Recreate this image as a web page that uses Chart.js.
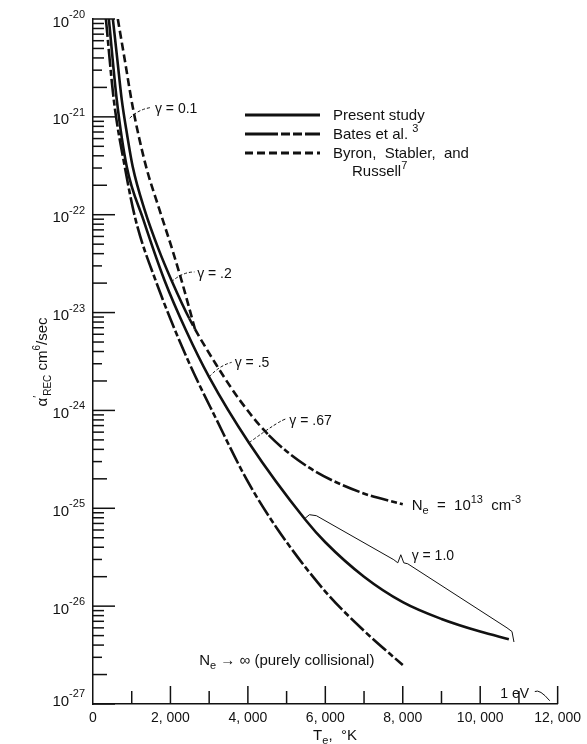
<!DOCTYPE html>
<html>
<head>
<meta charset="utf-8">
<script src="https://cdn.jsdelivr.net/npm/chart.js@4.4.1/dist/chart.umd.min.js"></script>
<style>
  html, body { margin: 0; padding: 0; background: #fff; }
</style>
</head>
<body>
<canvas id="chart" width="587" height="744"></canvas>
<script>
// temperature axis
const tempTicks = [0, 2000, 4000, 6000, 8000, 10000, 12000];
const decades = [-27, -26, -25, -24, -23, -22, -21, -20];

// Present study, Ne -> infinity (purely collisional)
const presentInfT = [410, 615, 872, 1300, 1846, 2400, 3000, 4026, 5490, 6000, 7000, 8000, 9000, 10000, 10740];
const presentInfA = [1.0e-20, 1.48e-21, 3.09e-22, 8.9e-23, 2.14e-23, 6.6e-24, 2.19e-24, 4.68e-25, 7.6e-26, 4.5e-26, 2.0e-26, 1.1e-26, 7.4e-27, 5.5e-27, 4.6e-27];

// Bates et al., Ne -> infinity
const batesInfT = [333, 538, 821, 1100, 1615, 2410, 3200, 3974, 4744, 6000, 7000, 8000];
const batesInfA = [1.0e-20, 1.48e-21, 3.09e-22, 8.9e-23, 2.14e-23, 3.55e-24, 7.9e-25, 1.95e-25, 6.3e-26, 1.41e-26, 5.6e-27, 2.5e-27];

// upper curve, Ne = 1e13: present study, then Byron et al., then Bates et al.
const upperT = [513, 630, 744, 880, 1026, 1333, 1700, 2026, 2487, 3179, 3800, 4538, 5564, 6923, 8000];
const upperA = [1.0e-20, 3.8e-21, 1.48e-21, 6.6e-22, 3.09e-22, 1.12e-22, 4.37e-23, 2.14e-23, 8.7e-24, 2.95e-24, 1.26e-24, 5.6e-25, 2.63e-25, 1.45e-25, 1.1e-25];
const upperSwitchT = [2487, 4538];   // solid -> dashed -> dash-dot

// Byron, Stabler and Russell, separate upper branch
const byronT = [641, 821, 1026, 1359, 1718, 2051, 2282, 2462, 2641];
const byronA = [1.0e-20, 3.81e-21, 1.26e-21, 3.23e-22, 1.12e-22, 4.37e-23, 2.16e-23, 1.2e-23, 6.6e-24];

// annotation anchors (data units)
const gammaText = ['γ = 0.1', 'γ = .2', 'γ = .5', 'γ = .67', 'γ = 1.0'];
const gammaAt = [[1600, 1.23e-21], [2690, 2.55e-23], [3660, 3.13e-24], [5070, 8.0e-25], [8230, 3.3e-26]];
const gammaLeaders = [
  [[949, 9.7e-22], [1180, 1.2e-21], [1520, 1.25e-21]],
  [[2026, 2.06e-23], [2308, 2.6e-23], [2620, 2.6e-23]],
  [[3000, 2.2e-24], [3256, 2.86e-24], [3580, 3.1e-24]],
  [[4026, 4.67e-25], [4872, 8.2e-25], [5000, 8.2e-25]]
];
const bracketPts = [[5460, 7.8e-26], [5590, 8.6e-26], [5769, 8.4e-26], [7769, 2.98e-26], [7872, 2.77e-26],
  [7949, 3.35e-26], [8026, 2.77e-26], [8128, 2.71e-26], [10692, 6.0e-27], [10821, 5.5e-27], [10872, 4.3e-27]];
const eVLeader = [[11410, 1.34e-27], [11538, 1.43e-27], [11795, 1.08e-27]];

const INK = '#111';
const FONT = '"Liberation Sans", Arial, sans-serif';
const DASH_BATES = [18, 3, 6, 3];
const DASH_BYRON = [8, 4];

const pts = (xs, ys) => xs.map((x, i) => ({ x: x, y: ys[i] }));

function line(label, xs, ys, dash) {
  return {
    label: label,
    data: pts(xs, ys),
    borderColor: INK,
    borderWidth: 2.6,
    borderDash: dash,
    pointRadius: 0,
    fill: false,
    cubicInterpolationMode: 'monotone'
  };
}

// draw text made of pieces [text, size, dy]
function rich(ctx, parts, x, y, align) {
  let w = 0;
  parts.forEach(p => { ctx.font = p[1] + 'px ' + FONT; w += ctx.measureText(p[0]).width; });
  let cx = align === 'center' ? x - w / 2 : (align === 'right' ? x - w : x);
  ctx.textAlign = 'left';
  ctx.textBaseline = 'alphabetic';
  parts.forEach(p => {
    ctx.font = p[1] + 'px ' + FONT;
    ctx.fillText(p[0], cx, y + (p[2] || 0));
    cx += ctx.measureText(p[0]).width;
  });
}

const paper = {
  id: 'paper',
  beforeDraw(chart) {
    const c = chart.ctx;
    c.save();
    c.fillStyle = '#fff';
    c.fillRect(0, 0, chart.width, chart.height);
    c.restore();
  },
  afterDraw(chart) {
    const c = chart.ctx;
    const xs = chart.scales.x, ys = chart.scales.y;
    const X = v => xs.getPixelForValue(v), Y = v => ys.getPixelForValue(v);
    const left = chart.chartArea.left, bottom = chart.chartArea.bottom;
    c.save();
    c.strokeStyle = INK;
    c.fillStyle = INK;
    c.lineWidth = 1.5;

    // y ticks, pointing inward
    decades.forEach((d, i) => {
      const yp = Y(Math.pow(10, d));
      c.beginPath(); c.moveTo(left, yp); c.lineTo(left + 22, yp); c.stroke();
      if (i < decades.length - 1) {
        for (let m = 2; m <= 9; m++) {
          const ym = Y(m * Math.pow(10, d));
          const len = m === 2 ? 14 : (m === 3 ? 9 : 11);
          c.beginPath(); c.moveTo(left, ym); c.lineTo(left + len, ym); c.stroke();
        }
      }
      const cy = d === -27 ? yp - 4 : yp + 2;
      c.font = '11px ' + FONT;
      const ew = c.measureText('-' + (-d)).width;
      rich(c, [['10', 15, 0]], 85 - ew, cy + 5.5, 'right');
      rich(c, [['-' + (-d), 11, 0]], 85, cy - 3, 'right');
    });

    // x ticks, pointing up
    for (let t = 1000; t <= 12000; t += 1000) {
      const xp = X(t);
      const len = t % 2000 === 0 ? 18 : 13;
      c.beginPath(); c.moveTo(xp, bottom); c.lineTo(xp, bottom - len); c.stroke();
    }

    // axis titles
    rich(c, [['T', 15, 0], ['e', 11, 4], [',  °K', 15, 0]], 335, 740, 'center');
    c.save();
    c.translate(42, 362);
    c.rotate(-Math.PI / 2);
    rich(c, [['α', 15, 0], ['′', 11, -6], ['REC', 10, 4], [' cm', 15, 0], ['6', 10, -7], ['/sec', 15, 0]], 0, 5, 'center');
    c.restore();

    // legend
    const legY = [115, 134, 153];
    const legDash = [[], [33, 3, 9, 3, 9, 3], DASH_BYRON];
    c.lineWidth = 3;
    legY.forEach((ly, i) => {
      c.setLineDash(legDash[i]);
      c.beginPath(); c.moveTo(245, ly); c.lineTo(320, ly); c.stroke();
    });
    c.setLineDash([]);
    rich(c, [['Present study', 15, 0]], 333, legY[0] + 5, 'left');
    rich(c, [['Bates et al. ', 15, 0], ['3', 11, -7]], 333, legY[1] + 5, 'left');
    rich(c, [['Byron,  Stabler,  and', 15, 0]], 333, legY[2] + 5, 'left');
    rich(c, [['Russell', 15, 0], ['7', 11, -7]], 352, 176, 'left');

    // gamma leaders (thin dashed)
    c.lineWidth = 1;
    c.setLineDash([3, 2]);
    gammaLeaders.forEach(L => {
      c.beginPath();
      c.moveTo(X(L[0][0]), Y(L[0][1]));
      c.quadraticCurveTo(X(L[1][0]), Y(L[1][1]), X(L[2][0]), Y(L[2][1]));
      c.stroke();
    });
    c.setLineDash([]);
    // gamma = 1.0 brace
    c.beginPath();
    bracketPts.forEach((p, i) => { if (i === 0) c.moveTo(X(p[0]), Y(p[1])); else c.lineTo(X(p[0]), Y(p[1])); });
    c.stroke();
    // 1 eV leader
    c.beginPath();
    c.moveTo(X(eVLeader[0][0]), Y(eVLeader[0][1]));
    c.quadraticCurveTo(X(eVLeader[1][0]), Y(eVLeader[1][1]), X(eVLeader[2][0]), Y(eVLeader[2][1]));
    c.stroke();

    gammaText.forEach((t, i) => {
      rich(c, [[t, 14, 0]], X(gammaAt[i][0]), Y(gammaAt[i][1]) + 5, 'left');
    });
    rich(c, [['N', 15, 0], ['e', 11, 4], ['  =  10', 15, 0], ['13', 11, -7], ['  cm', 15, 0], ['-3', 11, -7]], X(8230), Y(1.09e-25) + 5, 'left');
    rich(c, [['N', 15, 0], ['e', 11, 4], [' → ∞ (purely collisional)', 15, 0]], X(2744), Y(2.84e-27) + 5, 'left');
    rich(c, [['1 eV', 14, 0]], X(10520), Y(1.3e-27) + 5, 'left');
    c.restore();
  }
};

const upper = line('Ne = 1e13', upperT, upperA, []);
upper.segment = {
  borderDash: ctx => {
    const x0 = ctx.p0.parsed.x;
    if (x0 < upperSwitchT[0]) return [];
    if (x0 < upperSwitchT[1]) return DASH_BYRON;
    return DASH_BATES;
  }
};

new Chart(document.getElementById('chart'), {
  type: 'line',
  data: {
    datasets: [
      line('Present study', presentInfT, presentInfA, []),
      line('Bates et al.', batesInfT, batesInfA, DASH_BATES),
      upper,
      line('Byron, Stabler, and Russell', byronT, byronA, DASH_BYRON)
    ]
  },
  options: {
    responsive: false,
    animation: false,
    devicePixelRatio: 1,
    layout: { padding: { top: 19, right: 24, bottom: 0, left: 0 } },
    plugins: { legend: { display: false }, tooltip: { enabled: false } },
    scales: {
      x: {
        type: 'linear',
        min: 0,
        max: 12000,
        afterFit: s => { s.height = 40; },
        afterBuildTicks: s => { s.ticks = tempTicks.map(v => ({ value: v })); },
        grid: { display: false, drawTicks: false },
        border: { display: true, color: INK, width: 1.5 },
        ticks: {
          padding: 6,
          maxRotation: 0,
          autoSkip: false,
          color: INK,
          font: { family: FONT, size: 14 },
          callback: v => v === 0 ? '0' : (v / 1000) + ', 000'
        }
      },
      y: {
        type: 'logarithmic',
        min: 1e-27,
        max: 1e-20,
        afterFit: s => { s.width = 93; },
        grid: { display: false, drawTicks: false },
        border: { display: true, color: INK, width: 1.5 },
        ticks: { display: false }
      }
    }
  },
  plugins: [paper]
});
</script>
</body>
</html>
